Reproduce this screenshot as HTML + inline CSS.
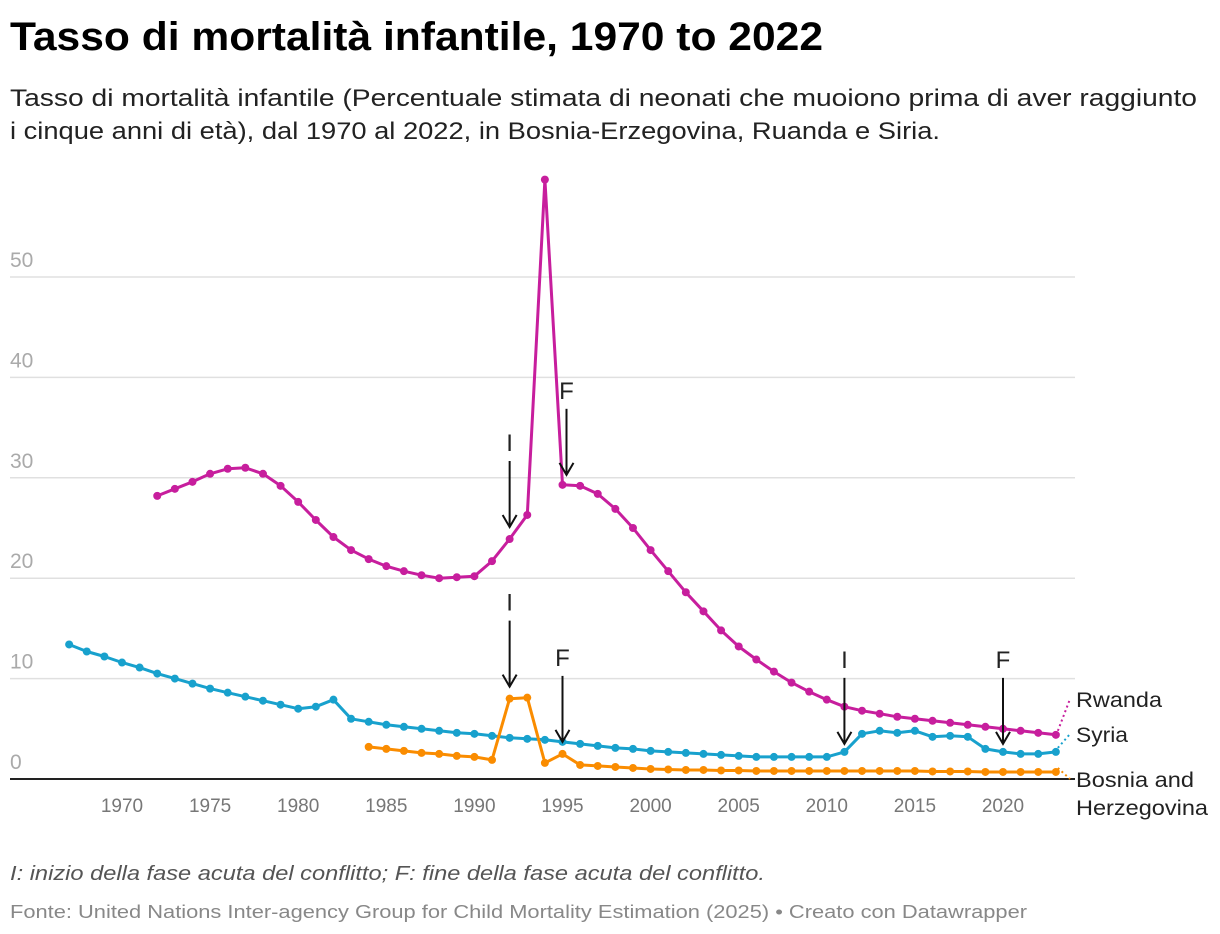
<!DOCTYPE html>
<html><head><meta charset="utf-8"><style>
html,body{margin:0;padding:0;background:#fff;}
svg{display:block;font-family:"Liberation Sans",sans-serif;}
</style></head><body>
<svg id="chart" width="1220" height="934" viewBox="0 0 1220 934">
<text x="10" y="50" font-size="40" font-weight="bold" fill="#000" textLength="813" lengthAdjust="spacingAndGlyphs">Tasso di mortalità infantile, 1970 to 2022</text>
<text x="10" y="106" font-size="24" fill="#222" textLength="1187" lengthAdjust="spacingAndGlyphs">Tasso di mortalità infantile (Percentuale stimata di neonati che muoiono prima di aver raggiunto</text>
<text x="10" y="139" font-size="24" fill="#222" textLength="930" lengthAdjust="spacingAndGlyphs">i cinque anni di età), dal 1970 al 2022, in Bosnia-Erzegovina, Ruanda e Siria.</text>
<g id="grid"></g><g id="series"></g><g id="annot"></g>
<text x="10" y="880" font-size="20" font-style="italic" fill="#555" textLength="755" lengthAdjust="spacingAndGlyphs">I: inizio della fase acuta del conflitto; F: fine della fase acuta del conflitto.</text>
<text x="10" y="918" font-size="18" fill="#888" textLength="1017" lengthAdjust="spacingAndGlyphs">Fonte: United Nations Inter-agency Group for Child Mortality Estimation (2025) • Creato con Datawrapper</text>
</svg>
<script>
const yTicks=[0,10,20,30,40,50];
const xTicks=[1970,1975,1980,1985,1990,1995,2000,2005,2010,2015,2020];
const rwandaStart=1972;
const rwanda=[28.2,28.9,29.6,30.4,30.9,31.0,30.4,29.2,27.6,25.8,24.1,22.8,21.9,21.2,20.7,20.3,20.0,20.1,20.2,21.7,23.9,26.3,59.7,29.3,29.2,28.4,26.9,25.0,22.8,20.7,18.6,16.7,14.8,13.2,11.9,10.7,9.6,8.7,7.9,7.2,6.8,6.5,6.2,6.0,5.8,5.6,5.4,5.2,5.0,4.8,4.6,4.4];
const syriaStart=1967;
const syria=[13.4,12.7,12.2,11.6,11.1,10.5,10.0,9.5,9.0,8.6,8.2,7.8,7.4,7.0,7.2,7.9,6.0,5.7,5.4,5.2,5.0,4.8,4.6,4.5,4.3,4.1,4.0,3.9,3.7,3.5,3.3,3.1,3.0,2.8,2.7,2.6,2.5,2.4,2.3,2.2,2.2,2.2,2.2,2.2,2.7,4.5,4.8,4.6,4.8,4.2,4.3,4.2,3.0,2.7,2.5,2.5,2.7];
const bosniaStart=1984;
const bosnia=[3.2,3.0,2.8,2.6,2.5,2.3,2.2,1.9,8.0,8.1,1.6,2.5,1.4,1.3,1.2,1.1,1.0,0.95,0.9,0.9,0.85,0.85,0.8,0.8,0.8,0.8,0.8,0.8,0.8,0.8,0.8,0.8,0.75,0.75,0.75,0.7,0.7,0.7,0.7,0.7];
const annotYears=[1992,1995,1992,1995,2011,2020];
const annotLabels=["I","F","I","F","I","F"];
const annotSeries=["rwanda","rwanda","bosnia","bosnia","syria","syria"];

const NS="http://www.w3.org/2000/svg";
const X=yr=>122+(yr-1970)*17.62;
const Y=v=>779-v*10.04;
function mk(tag,attrs,parent){const e=document.createElementNS(NS,tag);for(const k in attrs)e.setAttribute(k,attrs[k]);parent.appendChild(e);return e;}
const grid=document.getElementById('grid'),ser=document.getElementById('series'),ann=document.getElementById('annot');
yTicks.forEach(t=>{
  if(t>0){const l=mk('line',{x1:10,x2:1075,y1:Y(t),y2:Y(t),stroke:'#e0e0e0','stroke-width':1.5},grid);
  
  }
  const tx=mk('text',{x:10,y:Y(t)-10,'font-size':21,fill:'#aaa'},grid);tx.textContent=t;
  
  
});
const ax=mk('line',{x1:10,x2:1075,y1:779,y2:779,stroke:'#222','stroke-width':2},grid);


xTicks.forEach(t=>{const tx=mk('text',{x:X(t),y:812,'font-size':19,fill:'#777','text-anchor':'middle'},grid);tx.textContent=t;
  
  });
function drawSeries(name,start,vals,color,labelLines,widths,ly){
  const g=mk('g',{},ser);
  
  
  const pts=vals.map((v,i)=>X(start+i).toFixed(1)+','+Y(v).toFixed(1)).join(' ');
  const pl=mk('polyline',{points:pts,fill:'none',stroke:color,'stroke-width':3,'stroke-linejoin':'round'},g);
  
  
  vals.forEach((v,i)=>{const c=mk('circle',{cx:X(start+i),cy:Y(v),r:4,fill:color},g);
    
    });
  const lx=X(start+vals.length-1),lv=Y(vals[vals.length-1]);
  const d=mk('line',{x1:lx+2,y1:lv-4,x2:1070,y2:ly-8,stroke:color,'stroke-width':2,'stroke-dasharray':'2,3'},g);
  
  
  labelLines.forEach((s,i)=>{const t=mk('text',{x:1076,y:ly+i*28,'font-size':21,fill:'#222',textLength:widths[i],lengthAdjust:'spacingAndGlyphs'},g);t.textContent=s;
    
    });
}
drawSeries('syria',syriaStart,syria,'#18a1cd',['Syria'],[52],742);
drawSeries('bosnia',bosniaStart,bosnia,'#fa8c00',['Bosnia and','Herzegovina'],[118,132],787);
drawSeries('rwanda',rwandaStart,rwanda,'#c71e9d',['Rwanda'],[86],707);
const seriesMap={rwanda:[rwandaStart,rwanda],syria:[syriaStart,syria],bosnia:[bosniaStart,bosnia]};
annotYears.forEach((yr,i)=>{
  const [s,vals]=seriesMap[annotSeries[i]];
  let v=vals[yr-s];
  const isRF=annotSeries[i]==='rwanda'&&annotLabels[i]==='F';
  const tipY=Y(v)-(isRF?10:(annotSeries[i]==='syria'?8:12));
  const x=X(yr)+(isRF?4:0);
  const top=tipY-66;
  const g=mk('g',{},ann);
  
  
  const t=mk('text',{x:x,y:top-10,'font-size':24,fill:'#222','text-anchor':'middle'},g);t.textContent=annotLabels[i];
  mk('line',{x1:x,y1:top,x2:x,y2:tipY,stroke:'#111','stroke-width':2},g);
  mk('polyline',{points:(x-7)+','+(tipY-12)+' '+x+','+tipY+' '+(x+7)+','+(tipY-12),fill:'none',stroke:'#111','stroke-width':2},g);
});
</script>
</body></html>
